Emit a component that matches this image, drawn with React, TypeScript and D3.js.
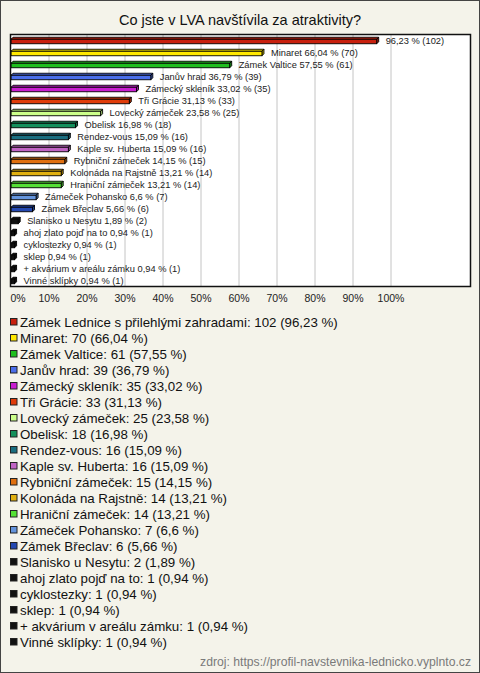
import React from "react";
import * as d3 from "d3";

const categories = [
  "Zámek Lednice s přilehlými zahradami",
  "Minaret",
  "Zámek Valtice",
  "Janův hrad",
  "Zámecký skleník",
  "Tři Grácie",
  "Lovecký zámeček",
  "Obelisk",
  "Rendez-vous",
  "Kaple sv. Huberta",
  "Rybniční zámeček",
  "Kolonáda na Rajstně",
  "Hraniční zámeček",
  "Zámeček Pohansko",
  "Zámek Břeclav",
  "Slanisko u Nesytu",
  "ahoj zlato pojď na to",
  "cyklostezky",
  "sklep",
  "+ akvárium v areálu zámku",
  "Vinné sklípky",
];
const counts = [102, 70, 61, 39, 35, 33, 25, 18, 16, 16, 15, 14, 14, 7, 6, 2, 1, 1, 1, 1, 1];
const percents = ["96,23", "66,04", "57,55", "36,79", "33,02", "31,13", "23,58", "16,98", "15,09", "15,09", "14,15", "13,21", "13,21", "6,6", "5,66", "1,89", "0,94", "0,94", "0,94", "0,94", "0,94"];
const colors = [
  "#c8200e", "#ffe800", "#1ebe1e", "#4a6eea", "#c81ed0", "#e03c0a", "#ccff8a",
  "#14905c", "#1a6e80", "#c064c4", "#e07010", "#e0b010", "#55e036", "#6494dc",
  "#2448b0", "#111111", "#111111", "#111111", "#111111", "#111111", "#111111",
];
const ticks = [0, 10, 20, 30, 40, 50, 60, 70, 80, 90, 100];
const title = "Co jste v LVA navštívila za atraktivity?";
const source = "zdroj: https://profil-navstevnika-lednicko.vyplnto.cz";

const W = 480;
const H = 673;
const font = "'Liberation Sans', Arial, sans-serif";

export default function App() {
  const values = percents.map((p) => parseFloat(p.replace(",", ".")));
  const x = d3.scaleLinear().domain([0, 100]).range([11, 391]);
  const y = d3.scaleBand<string>().domain(categories).range([35, 287]);
  const ly = d3.scaleBand<string>().domain(categories).range([314, 650]);
  const depth = 2;
  const barH = 4.5;

  return (
    <div style={{ position: "absolute", left: 0, top: 0 }}>
      <svg width={W} height={H} style={{ display: "block", fontFamily: font }}>
        <rect x={0.5} y={0.5} width={W - 1} height={H - 1} fill="#f4f3ea" stroke="#444" strokeWidth={1} />
        <text x={240} y={25} textAnchor="middle" fontSize={14.5} fill="#111">{title}</text>
        <rect x={10.5} y={34.5} width={460} height={252} fill="#fff" />
        {ticks.filter((t) => t > 0).map((t) => (
          <line key={t} x1={x(t)} x2={x(t)} y1={35} y2={286} stroke="#c4c4c4" strokeWidth={1} />
        ))}
        {categories.map((c, i) => {
          const cy = (y(c) as number) + y.bandwidth() / 2;
          const x0 = x(0);
          const x1 = x(values[i]);
          const top = cy - barH / 2 + 0.5;
          const col = colors[i];
          const dark = d3.color(col)!.darker(0.8).formatHex();
          const topFace = `M${x0},${top} L${x0 + depth},${top - depth} L${x1 + depth},${top - depth} L${x1},${top} Z`;
          const sideFace = `M${x1},${top} L${x1 + depth},${top - depth} L${x1 + depth},${top - depth + barH} L${x1},${top + barH} Z`;
          const label = i === 0 ? `${percents[i]} % (${counts[i]})` : `${c} ${percents[i]} % (${counts[i]})`;
          return (
            <g key={c}>
              <path d={topFace} fill={col} stroke="#000" strokeWidth={0.9} strokeLinejoin="round" />
              <path d={sideFace} fill={dark} stroke="#000" strokeWidth={0.9} strokeLinejoin="round" />
              <rect x={x0} y={top} width={x1 - x0} height={barH} fill={col} stroke="#000" strokeWidth={0.9} />
              <text x={x1 + depth + 7} y={cy + 3} fontSize={9.3} fill="#222">{label}</text>
            </g>
          );
        })}
        <rect x={10.5} y={34.5} width={460} height={252} fill="none" stroke="#111" strokeWidth={1.5} />
        {ticks.map((t) => (
          <text key={t} x={t === 0 ? x(t) + 7 : x(t)} y={302} textAnchor="middle" fontSize={10.5} fill="#222">{`${t}%`}</text>
        ))}
        {categories.map((c, i) => {
          const cy = (ly(c) as number) + ly.bandwidth() / 2;
          return (
            <g key={c}>
              <rect x={10.5} y={cy - 3.5} width={6.5} height={6.5} fill={colors[i]} stroke="#222" strokeWidth={1} />
              <text x={20} y={cy + 4.5} fontSize={13.3} fill="#111">{`${c}: ${counts[i]} (${percents[i]} %)`}</text>
            </g>
          );
        })}
        <text x={471} y={666} textAnchor="end" fontSize={12.2} fill="#7a7a7a">{source}</text>
      </svg>
    </div>
  );
}
